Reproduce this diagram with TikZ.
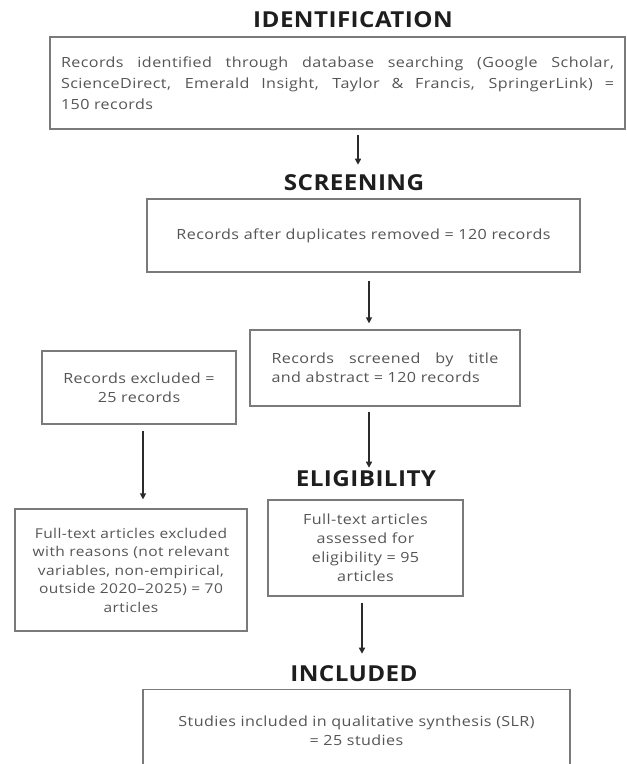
\documentclass[tikz,border=0pt]{standalone}
\usepackage{fontspec}
\setmainfont{Open Sans}
\newfontfamily\bodyfont[FakeStretch=1.15,LetterSpace=3]{Open Sans}
\newfontfamily\headfont[FakeStretch=1.1,LetterSpace=2]{Open Sans}
\usetikzlibrary{arrows.meta}
\definecolor{txt}{HTML}{555555}
\definecolor{bord}{HTML}{7A7A7A}
\definecolor{arrc}{HTML}{2B2B2B}
\definecolor{head}{HTML}{1E1E1E}
\begin{document}
\begin{tikzpicture}[x=1pt,y=-1pt,
  box/.style={draw=bord,line width=1.3pt,inner sep=0pt,text=txt,font=\bodyfont\fontsize{14}{19}\selectfont},
  heading/.style={font=\headfont\fontsize{22}{24}\selectfont\bfseries,text=head,inner sep=0pt},
  flow/.style={draw=arrc,line width=1.4pt,-{Triangle[length=6pt,width=6pt]}}]
\useasboundingbox (0,0) rectangle (627,764);
% headings
\node[heading] (h1) at (353,20) {IDENTIFICATION};
\node[heading] (h2) at (354,183) {SCREENING};
\node[heading] (h3) at (366,479) {ELIGIBILITY};
\node[heading] (h4) at (354,674) {INCLUDED};
% boxes
\node[box,minimum width=575pt,minimum height=92pt,align=left,font=\bodyfont\fontsize{14}{21}\selectfont] (b1) at (337.5,83)
  {\makebox[553pt][s]{Records identified through database searching (Google Scholar,}\\
   \makebox[553pt][s]{ScienceDirect, Emerald Insight, Taylor \& Francis, SpringerLink) =}\\
   150 records};
\node[box,minimum width=433pt,minimum height=73pt] (b2) at (363.5,235.5)
  {Records after duplicates removed = 120 records};
\node[box,minimum width=270pt,minimum height=76pt,align=left] (b3) at (385,368)
  {\makebox[227pt][s]{Records screened by title}\\and abstract = 120 records};
\node[box,minimum width=194pt,minimum height=73pt,align=center] (b4) at (139,387.5)
  {Records excluded =\\25 records};
\node[box,minimum width=195pt,minimum height=96pt,align=center] (b5) at (365.5,548)
  {Full-text articles\\assessed for\\eligibility = 95\\articles};
\node[box,minimum width=232pt,minimum height=122pt,align=center,font=\bodyfont\fontsize{13.5}{18.5}\selectfont] (b6) at (131,570)
  {Full-text articles excluded\\with reasons (not relevant\\variables, non-empirical,\\outside 2020–2025) = 70\\articles};
\node[box,minimum width=427pt,inner ysep=26pt,anchor=north,align=center] (b7) at (356.5,689)
  {Studies included in qualitative synthesis (SLR)\\= 25 studies};
% arrow x positions
\coordinate (x1) at (358,0);
\coordinate (x2) at (369,0);
\coordinate (xl) at (143,0);
\coordinate (x4) at (362,0);
% arrows
\draw[flow,shorten <=5pt,shorten >=10pt] (b1.south -| x1) -- (h2.north -| x1);
\draw[flow,shorten <=8pt,shorten >=6pt] (b2.south -| x2) -- (b3.north -| x2);
\draw[flow,shorten <=5pt,shorten >=3pt] (b3.south -| x2) -- (h3.north -| x2);
\draw[flow,shorten <=6pt,shorten >=9pt] (b4.south -| xl) -- (b6.north -| xl);
\draw[flow,shorten <=6pt,shorten >=12pt] (b5.south -| x4) -- (h4.north -| x4);
\end{tikzpicture}
\end{document}
